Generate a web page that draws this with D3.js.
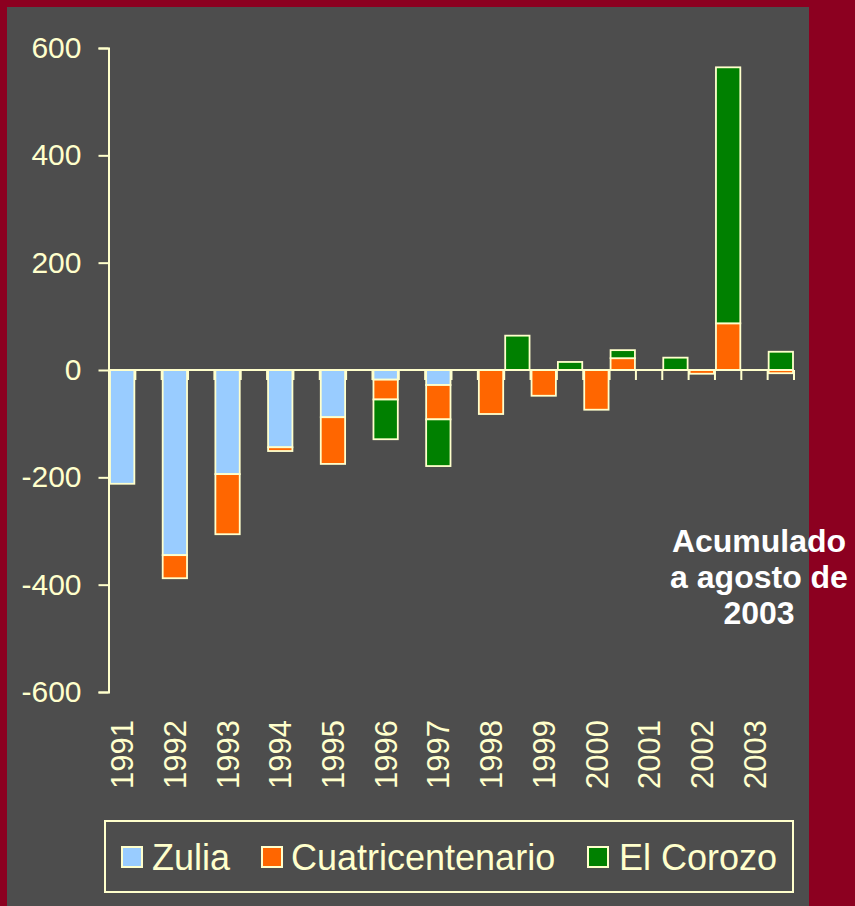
<!DOCTYPE html>
<html>
<head>
<meta charset="utf-8">
<script src="https://cdn.jsdelivr.net/npm/d3@7"></script>
<style>
  html, body { margin: 0; padding: 0; background: #8c0020; }
  svg { display: block; font-family: "Liberation Sans", Arial, sans-serif; }
</style>
</head>
<body>
<div id="chart"></div>
<script>
// years, two bars per year: left bar (a) and right bar (b)
const years = ['1991', '1992', '1993', '1994', '1995', '1996', '1997', '1998', '1999', '2000', '2001', '2002', '2003']
const zuliaA = [-212, -345, -194, -144, -88, -18, -28, 0, 0, 0, 0, 0, 0]
const cuatriA = [0, -43, -112, -7, -87, -37, -64, -82, -48, -74, 0, -7, 0]
const corozoA = [0, 0, 0, 0, 0, -74, -87, 0, 0, 0, 0, 0, 0]
const zuliaB = [0, 0, 0, 0, 0, 0, 0, 0, 0, 0, 0, 0, 0]
const cuatriB = [0, 0, 0, 0, 0, 0, 0, 0, 0, 22, 0, 87, -6]
const corozoB = [0, 0, 0, 0, 0, 0, 0, 64, 15, 15, 23, 477, 34]
const seriesNames = ['Zulia', 'Cuatricentenario', 'El Corozo']
const yTicks = [-600, -400, -200, 0, 200, 400, 600]
const note = ['Acumulado', 'a agosto de', '2003']

const W = 855; const H = 906
const cream = '#ffffcc'
const colors = ['#99ccff', '#ff6600', '#008000']
const keys = ['zulia', 'cuatri', 'corozo']

// one row per bar slot
const rows = []
years.forEach((yr, i) => {
  rows.push({ slot: 2 * i, year: yr, zulia: zuliaA[i], cuatri: cuatriA[i], corozo: corozoA[i] })
  rows.push({ slot: 2 * i + 1, year: '', zulia: zuliaB[i], cuatri: cuatriB[i], corozo: corozoB[i] })
})

const svg = d3.select('#chart').append('svg')
  .attr('width', W)
  .attr('height', H)

svg.append('rect').attr('width', W).attr('height', H).attr('fill', '#8c0020')
svg.append('rect')
  .attr('x', 7).attr('y', 7)
  .attr('width', 802).attr('height', H)
  .attr('fill', '#4d4d4d')

const x = d3.scaleBand()
  .domain(rows.map(d => d.slot))
  .range([109, 794])
  .padding(0)

const y = d3.scaleLinear()
  .domain([-600, 600])
  .range([692, 48])

const stacked = d3.stack()
  .keys(keys)
  .offset(d3.stackOffsetDiverging)(rows)

const bw = x.bandwidth()
svg.append('g')
  .selectAll('g')
  .data(stacked)
  .join('g')
  .attr('fill', (d, i) => colors[i])
  .selectAll('rect')
  .data(d => d.filter(p => p[1] - p[0] !== 0))
  .join('rect')
  .attr('x', d => x(d.data.slot) + 1)
  .attr('width', bw - 2)
  .attr('y', d => y(d[1]))
  .attr('height', d => y(d[0]) - y(d[1]))
  .attr('stroke', cream)
  .attr('stroke-width', 1.8)

// value axis
const yAxis = svg.append('g')
  .attr('transform', 'translate(108.5,0)')
  .call(d3.axisLeft(y).tickValues(yTicks).tickSize(10).tickPadding(17).tickFormat(d => String(d)))
yAxis.selectAll('path, line').attr('stroke', cream).attr('stroke-width', 2)
yAxis.selectAll('text')
  .attr('fill', cream)
  .style('font-size', '30px')
  .style('font-family', '"Liberation Sans", Arial, sans-serif')

// category axis along zero
const zero = y(0)
svg.append('line')
  .attr('x1', x.range()[0]).attr('x2', x.range()[1])
  .attr('y1', zero).attr('y2', zero)
  .attr('stroke', cream).attr('stroke-width', 2)
const edges = rows.map(d => x(d.slot)).concat([x.range()[1]])
svg.append('g')
  .selectAll('line')
  .data(edges)
  .join('line')
  .attr('x1', d => d).attr('x2', d => d)
  .attr('y1', zero).attr('y2', zero + 10)
  .attr('stroke', cream).attr('stroke-width', 2)

svg.append('g')
  .selectAll('text')
  .data(rows.filter(d => d.year))
  .join('text')
  .attr('transform', d => `translate(${x(d.slot) + bw / 2},720) rotate(-90)`)
  .attr('text-anchor', 'end')
  .attr('dy', '0.36em')
  .attr('fill', cream)
  .style('font-size', '31px')
  .text(d => d.year)

// note
svg.append('text')
  .attr('x', 759)
  .attr('y', 552)
  .attr('text-anchor', 'middle')
  .attr('fill', '#ffffff')
  .style('font-size', '32px')
  .style('font-weight', 'bold')
  .selectAll('tspan')
  .data(note)
  .join('tspan')
  .attr('x', 759)
  .attr('dy', (d, i) => i === 0 ? 0 : 36)
  .text(d => d)

// legend
const legend = svg.append('g')
legend.append('rect')
  .attr('x', 105).attr('y', 821)
  .attr('width', 688).attr('height', 71)
  .attr('fill', 'none')
  .attr('stroke', cream).attr('stroke-width', 2)
const legX = [121, 261, 587]
const items = legend.selectAll('g.item')
  .data(seriesNames)
  .join('g')
  .attr('class', 'item')
  .attr('transform', (d, i) => `translate(${legX[i]},0)`)
items.append('rect')
  .attr('x', 1).attr('y', 847)
  .attr('width', 20).attr('height', 20)
  .attr('fill', (d, i) => colors[i])
  .attr('stroke', cream).attr('stroke-width', 2)
items.append('text')
  .attr('x', (d, i) => [31, 30, 32][i])
  .attr('y', 870)
  .attr('fill', cream)
  .style('font-size', '36px')
  .text(d => d)
</script>
</body>
</html>
